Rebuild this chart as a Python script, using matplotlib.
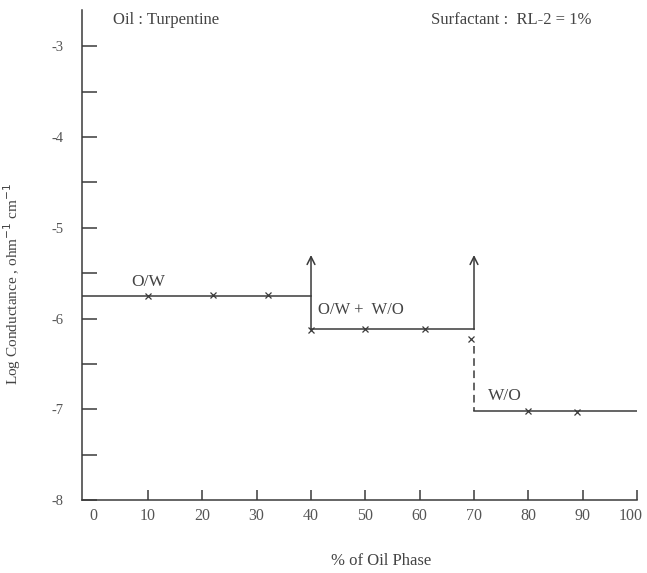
import matplotlib.pyplot as plt
import matplotlib.transforms as mtransforms
import numpy as np

plt.rcParams['font.family'] = ['Liberation Serif', 'DejaVu Serif']

# data
ow_x = [10, 22, 32]
ow_y = [-5.75, -5.74, -5.74]
mix_x = [40, 50, 61, 69.5]
mix_y = [-6.13, -6.12, -6.11, -6.23]
wo_x = [80, 89]
wo_y = [-7.02, -7.03]

ow_level = -5.75
mix_level = -6.12
wo_level = -7.02
inversion_1 = 40
inversion_2 = 70
arrow_top = -5.3
dash_top = -6.3

x_ticks = [0, 10, 20, 30, 40, 50, 60, 70, 80, 90, 100]
y_ticks = [-8, -7, -6, -5, -4, -3]

ink = '#3a3a3a'
txt = '#444444'

fig = plt.figure(figsize=(6.47, 5.73), dpi=100)
ax = fig.add_axes([82/647, 1 - 500/573, (637 - 82)/647, (500 - 10)/573])
ax.set_xlim(-2.15, 100)
ax.set_ylim(-8, -2.6)

lw = 1.1
# plateaus
ax.plot([-2.15, inversion_1], [ow_level, ow_level], color=ink, lw=lw)
ax.plot([inversion_1, inversion_2], [mix_level, mix_level], color=ink, lw=lw)
ax.plot([inversion_2, 100], [wo_level, wo_level], color=ink, lw=lw)

# jumps with arrows
for xb in (inversion_1, inversion_2):
    ax.annotate('', xy=(xb, arrow_top), xytext=(xb, mix_level),
                arrowprops=dict(arrowstyle='->', color=ink, lw=lw,
                                mutation_scale=14, shrinkA=0, shrinkB=0))
ax.plot([inversion_2, inversion_2], [dash_top, wo_level], color=ink, lw=lw,
        ls=(0, (5, 3)))

# measured points
for xs, ys in ((ow_x, ow_y), (mix_x, mix_y), (wo_x, wo_y)):
    ax.plot(xs, ys, ls='none', marker='x', ms=4, mew=0.9, color=ink)

# axes styling
for s in ('top', 'right'):
    ax.spines[s].set_visible(False)
for s in ('left', 'bottom'):
    ax.spines[s].set_color(ink)
    ax.spines[s].set_linewidth(1.1)

ax.set_xticks(x_ticks)
ax.set_xticklabels([str(v) for v in x_ticks])
ax.set_yticks(y_ticks)
ax.set_yticklabels([str(v) for v in y_ticks])
ax.set_yticks(np.arange(-7.5, -2.9, 1.0), minor=True)
ax.tick_params(axis='x', direction='in', length=7, width=1.1, color=ink,
               labelcolor='#555555', labelsize=11.5, pad=6)
ax.tick_params(axis='y', which='both', direction='in', length=11, width=1.1,
               color=ink, labelcolor='#555555', labelsize=10.5, pad=13)
# no tick mark at 0 on the x axis
ax.xaxis.get_major_ticks()[0].tick1line.set_visible(False)
# last label sits a bit left of its tick, as in the scan
last = ax.get_xticklabels()[-1]
last.set_transform(last.get_transform() +
                   mtransforms.ScaledTranslation(-6/100, 0, fig.dpi_scale_trans))

ax.set_xlabel('% of Oil Phase', fontsize=12, color=txt)
ax.xaxis.set_label_coords(0.539, -0.108)
ax.set_ylabel('Log Conductance , ohm$^{-1}$ cm$^{-1}$', fontsize=11,
              color=txt)
ax.yaxis.set_label_coords(-0.106, 0.44)

# annotations
ax.text(3.5, -2.71, 'Oil : Turpentine', fontsize=12, color=txt, va='center')
ax.text(62, -2.71, 'Surfactant :  RL-2 = 1%', fontsize=12, color=txt,
        va='center')
ax.text(7.0, -5.6, 'O/W', fontsize=12.5, color=txt, va='center')
ax.text(41.3, -5.91, 'O/W +  W/O', fontsize=12, color=txt, va='center')
ax.text(72.6, -6.85, 'W/O', fontsize=12.5, color=txt, va='center')

fig.savefig('out.png', dpi=100)
